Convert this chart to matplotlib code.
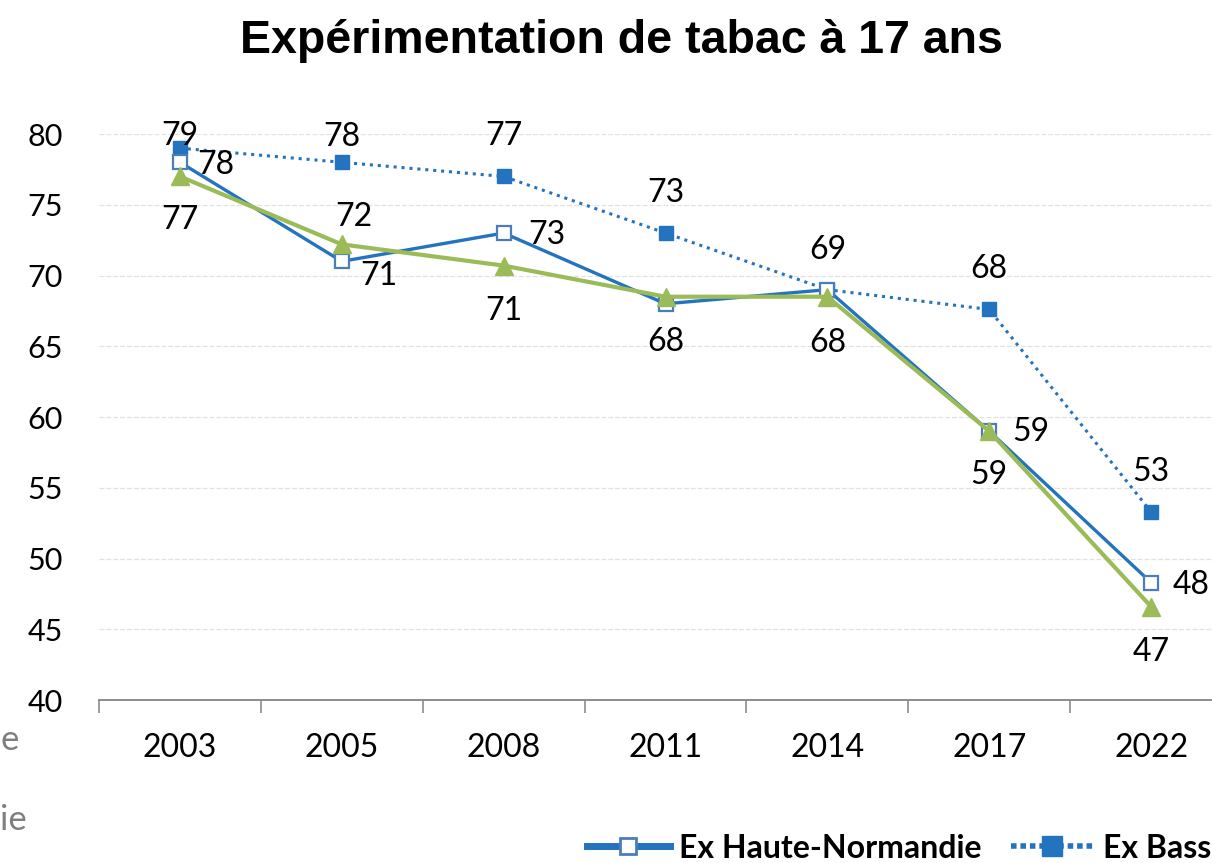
import matplotlib.pyplot as plt
from matplotlib.lines import Line2D

years = ["2003", "2005", "2008", "2011", "2014", "2017", "2022"]
haute = [78, 71, 73, 68, 69, 59, 48.3]
basse = [79, 78, 77, 73, 69, 67.6, 53.3]
normandie = [77, 72.2, 70.7, 68.5, 68.5, 59, 46.6]
haute_lbl = ["78", "71", "73", None, None, "59", "48"]
basse_lbl = ["79", "78", "77", "73", "69", "68", "53"]
norm_lbl = ["77", "72", "71", "68", "68", "59", "47"]

blue = "#2473BE"
blue_edge = "#4A7EBB"
green = "#9BBB59"

fig = plt.figure(figsize=(12.12, 8.63), dpi=100)
ax = fig.add_axes([99 / 1212, 1 - 700 / 863, 1133 / 1212, 566 / 863])

x = list(range(len(years)))
ax.plot(x, basse, color=blue, lw=2.2, ls=(0, (1, 1.6)), marker="s", ms=10,
        mfc=blue, mec=blue, zorder=3)
ax.plot(x, haute, color=blue, lw=2.4, marker="s", ms=10,
        mfc="white", mec=blue_edge, mew=1.6, zorder=4)
ax.plot(x, normandie, color=green, lw=3, marker="^", ms=13,
        mfc=green, mec=green, zorder=5)

font = "Lato"
fs = 23

# data labels (offsets in pixels)
basse_off = [(0, 12), (0, 25), (0, 40), (0, 40), (0, 40), (0, 40), (0, 40)]
haute_off = [(36, -3), (37, -15), (43, -2), None, None, (42, -1), (40, -2)]
norm_off = [(0, -44), (12, 27), (0, -45), (0, -45), (0, -46), (0, -44), (0, -45)]
for vals, lbls, offs in [(basse, basse_lbl, basse_off), (haute, haute_lbl, haute_off),
                         (normandie, norm_lbl, norm_off)]:
    for i, (v, t, o) in enumerate(zip(vals, lbls, offs)):
        if t is None:
            continue
        ax.annotate(t, (i, v), xytext=o, textcoords="offset pixels",
                    ha="center", va="center", fontsize=fs, family=font,
                    color="black", zorder=6, annotation_clip=False)

ax.set_xlim(-0.5, 6.5)
ax.set_ylim(40, 80)
ax.set_yticks(range(40, 81, 5))
ax.set_xticks(x)
ax.set_xticklabels(years)
ax.set_xticks([i - 0.5 for i in range(len(years) + 1)], minor=True)
ax.tick_params(axis="x", which="major", length=0, pad=24, labelsize=fs)
ax.tick_params(axis="x", which="minor", length=9, width=1.2, color="#8C8C8C")
ax.tick_params(axis="y", length=0, pad=26, labelsize=22)
for lab in ax.get_xticklabels() + ax.get_yticklabels():
    lab.set_family(font)
for s in ["top", "right", "left"]:
    ax.spines[s].set_visible(False)
ax.spines["bottom"].set_color("#8C8C8C")
ax.spines["bottom"].set_linewidth(1.4)
ax.grid(axis="y", color="#E2E2E2", lw=0.9, ls=(0, (4, 1.5)))
ax.set_axisbelow(True)

fig.text(0.513, 0.953, "Expérimentation de tabac à 17 ans", ha="center", va="center",
         fontsize=33.5, fontweight="bold", family="Liberation Sans")

# partly hidden text on the left edge
fig.text(0.0, 1 - 740 / 863, "e", fontsize=25, color="#7F7F7F", family=font,
         va="center", ha="left")
fig.text(0.0, 1 - 820 / 863, "ie", fontsize=25, color="#7F7F7F", family=font,
         va="center", ha="left")

handles = [
    Line2D([], [], color=blue, lw=5, marker="s", ms=12, mfc="white", mec=blue_edge, mew=2),
    Line2D([], [], color=blue, lw=4, ls=(0, (1, 0.7)), marker="s", ms=14, mfc=blue, mec=blue),
    Line2D([], [], color=green, lw=4, marker="^", ms=14, mfc=green, mec=green),
]
fig.legend(handles, ["Ex Haute-Normandie", "Ex Basse-Normandie", "Normandie"],
           loc="center left", bbox_to_anchor=(558 / 1212, 1 - 848 / 863), ncol=3,
           frameon=False, handlelength=2.6, handletextpad=0.3, columnspacing=0.9,
           prop={"family": font, "size": 23, "weight": "bold"})

fig.savefig("out.png", dpi=100)
